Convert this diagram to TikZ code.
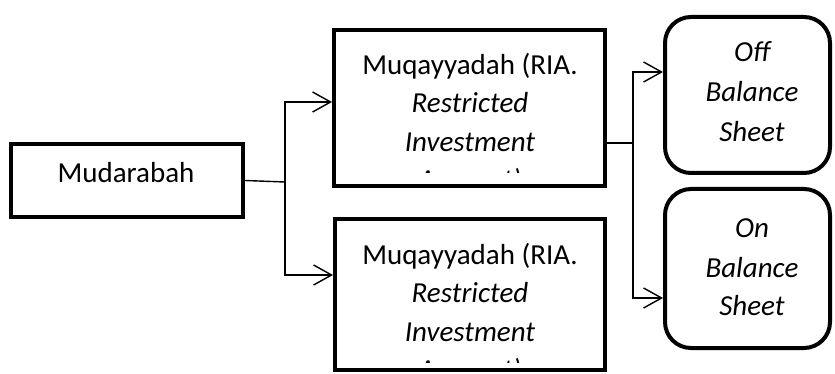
\documentclass[tikz,border=0pt]{standalone}
\usepackage{fontspec}
\setmainfont{Carlito}
\usetikzlibrary{arrows.meta}
\begin{document}
\begin{tikzpicture}[x=1pt,y=-1pt,
  box/.style={draw, line width=4pt, inner sep=0pt, fill=white},
  rbox/.style={box, rounded corners=26pt},
  txt/.style={font=\fontsize{29}{38}\selectfont, inner sep=0pt, anchor=base},
  conn/.style={line width=1.4pt},
  arr/.style={conn, -{Straight Barb[length=18pt,width=20pt,line width=1.4pt]}}]
\useasboundingbox (0,0) rectangle (835,374);
% boxes
\node[box, minimum width=232pt, minimum height=73pt] (m) at (127,180.5) {};
\node[box, minimum width=271pt, minimum height=156pt] (t1) at (469.5,108) {};
\node[box, minimum width=270pt, minimum height=151pt] (b1) at (470,294.5) {};
\node[rbox, minimum width=165pt, minimum height=156pt] (r1) at (747.5,95) {};
\node[rbox, minimum width=165pt, minimum height=159pt] (r2) at (747.5,268.5) {};
% texts
\node[txt] (mt) at (126,183) {Mudarabah};
\node[txt] (t1a) at (470,75) {Muqayyadah (RIA.};
\node[txt] (t1b) at (470,113) {\itshape Restricted};
\node[txt] (t1c) at (470,152) {\itshape Investment};
\begin{scope}
\clip (334,30) rectangle (605,173);
\node[txt] (t1d) at (470,190) {\itshape Account)};
\end{scope}
\node[txt] (b1a) at (470,264) {Muqayyadah (RIA.};
\node[txt] (b1b) at (470,302) {\itshape Restricted};
\node[txt] (b1c) at (470,341) {\itshape Investment};
\begin{scope}
\clip (335,220) rectangle (605,362);
\node[txt] (b1d) at (470,379) {\itshape Account)};
\end{scope}
\node[txt] (r1a) at (752,62) {\itshape Off};
\node[txt] (r1b) at (752,102) {\itshape Balance};
\node[txt] (r1c) at (752,142) {\itshape Sheet};
\node[txt] (r2a) at (752,237) {\itshape On};
\node[txt] (r2b) at (752,277) {\itshape Balance};
\node[txt] (r2c) at (752,315) {\itshape Sheet};
% connectors
\coordinate (j1) at (285,182);
\coordinate (j2) at (633,143);
\draw[conn] (m.east) -- (j1);
\draw[arr] (j1) |- ([yshift=6pt]t1.west);
\draw[arr] (j1) |- ([yshift=19.5pt]b1.west);
\draw[conn] ([yshift=-35pt]t1.east) -- (j2);
\draw[arr] (j2) |- ([yshift=23pt]r1.west);
\draw[arr] (j2) |- ([yshift=-29.5pt]r2.west);
\end{tikzpicture}
\end{document}
